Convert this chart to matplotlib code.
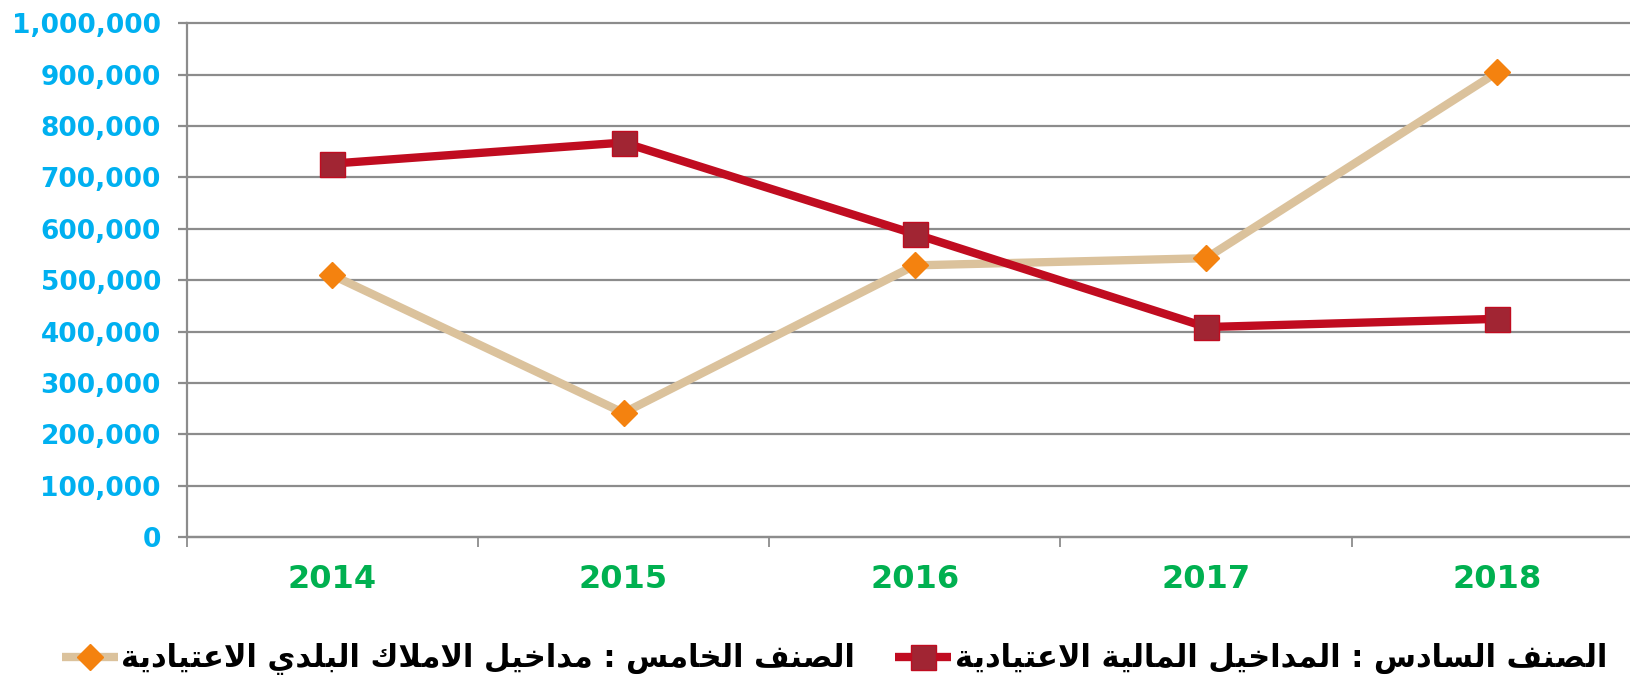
import matplotlib
matplotlib.use("Agg")
from matplotlib import pyplot as plt
from matplotlib.ticker import FuncFormatter, MultipleLocator
import numpy as np

# data
years = ["2014", "2015", "2016", "2017", "2018"]
fifth_class = [510000, 242000, 529000, 543000, 905000]
sixth_class = [727000, 768000, 590000, 409000, 425000]
label_fifth = "الصنف الخامس : مداخيل الاملاك البلدي الاعتيادية"
label_sixth = "الصنف السادس : المداخيل المالية الاعتيادية"

# simple arabic shaping (matplotlib has no shaping / bidi)
FORMS = {
    "ا": ("\uFE8D", "\uFE8E", None, None),
    "ب": ("\uFE8F", "\uFE90", "\uFE91", "\uFE92"),
    "ة": ("\uFE93", "\uFE94", None, None),
    "ت": ("\uFE95", "\uFE96", "\uFE97", "\uFE98"),
    "خ": ("\uFEA5", "\uFEA6", "\uFEA7", "\uFEA8"),
    "د": ("\uFEA9", "\uFEAA", None, None),
    "س": ("\uFEB1", "\uFEB2", "\uFEB3", "\uFEB4"),
    "ص": ("\uFEB9", "\uFEBA", "\uFEBB", "\uFEBC"),
    "ع": ("\uFEC9", "\uFECA", "\uFECB", "\uFECC"),
    "ف": ("\uFED1", "\uFED2", "\uFED3", "\uFED4"),
    "ك": ("\uFED9", "\uFEDA", "\uFEDB", "\uFEDC"),
    "ل": ("\uFEDD", "\uFEDE", "\uFEDF", "\uFEE0"),
    "م": ("\uFEE1", "\uFEE2", "\uFEE3", "\uFEE4"),
    "ن": ("\uFEE5", "\uFEE6", "\uFEE7", "\uFEE8"),
    "ي": ("\uFEF1", "\uFEF2", "\uFEF3", "\uFEF4"),
    "لا": ("\uFEFB", "\uFEFC", None, None),
}


def shape(text):
    tokens = []
    i = 0
    while i < len(text):
        if text[i] == "ل" and i + 1 < len(text) and text[i + 1] == "ا":
            tokens.append("لا")
            i += 2
        else:
            tokens.append(text[i])
            i += 1
    out = []
    for k, t in enumerate(tokens):
        if t not in FORMS:
            out.append(t)
            continue
        f = FORMS[t]
        prev = tokens[k - 1] if k > 0 else None
        nxt = tokens[k + 1] if k + 1 < len(tokens) else None
        c_prev = prev in FORMS and FORMS[prev][2] is not None
        c_next = f[2] is not None and nxt in FORMS
        if c_prev and c_next:
            out.append(f[3])
        elif c_prev:
            out.append(f[1])
        elif c_next:
            out.append(f[2])
        else:
            out.append(f[0])
    return "".join(out)[::-1]


plt.rcParams["font.family"] = ["DejaVu Sans"]
fig = plt.figure(figsize=(16.31, 6.79), dpi=100)
ax = fig.add_axes([0.1144, 0.2087, 0.893, 0.757])

x = np.arange(len(years))
grid_c = "#8C8C8C"

ax.plot(x, fifth_class, color="#DBC29C", lw=6, marker="D", ms=13,
        mfc="#F4820F", mec="#F4820F", label=shape(label_fifth), zorder=3,
        solid_capstyle="butt")
ax.plot(x, sixth_class, color="#C00C20", lw=6, marker="s", ms=18,
        mfc="#A12533", mec="#C00C20", mew=1, label=shape(label_sixth), zorder=4,
        solid_capstyle="butt")

ax.set_xlim(-0.5, 4.5)
ax.set_ylim(0, 1000000)
ax.yaxis.set_major_locator(MultipleLocator(100000))
ax.yaxis.set_major_formatter(FuncFormatter(lambda v, p: f"{v:,.0f}"))
ax.grid(axis="y", color=grid_c, lw=1.6)
ax.set_axisbelow(True)
for gl in ax.get_ygridlines():
    gl.set_clip_on(False)

ax.set_xticks(x)
ax.set_xticklabels(years)
ax.set_xticks(np.arange(-0.5, 5, 1), minor=True)
ax.tick_params(axis="x", which="major", length=0, pad=19.5, labelsize=23,
               labelcolor="#00B050")
ax.tick_params(axis="x", which="minor", length=7.5, width=1.3, color=grid_c)
ax.tick_params(axis="y", length=6.5, width=1.6, color=grid_c, pad=12,
               labelsize=19, labelcolor="#00B0F0")
for lab in ax.get_xticklabels() + ax.get_yticklabels():
    lab.set_fontweight("bold")

for s in ["top", "right"]:
    ax.spines[s].set_visible(False)
ax.spines["left"].set_color(grid_c)
ax.spines["left"].set_linewidth(1.6)
ax.spines["bottom"].set_color(grid_c)
ax.spines["bottom"].set_linewidth(1.6)

leg = fig.legend(loc="lower left", bbox_to_anchor=(0.021, -0.035), ncol=2,
                 frameon=False, prop={"size": 22, "weight": "bold"},
                 handlelength=1.85, handletextpad=0.1, columnspacing=1.3)

fig.savefig("out.png", dpi=100)
